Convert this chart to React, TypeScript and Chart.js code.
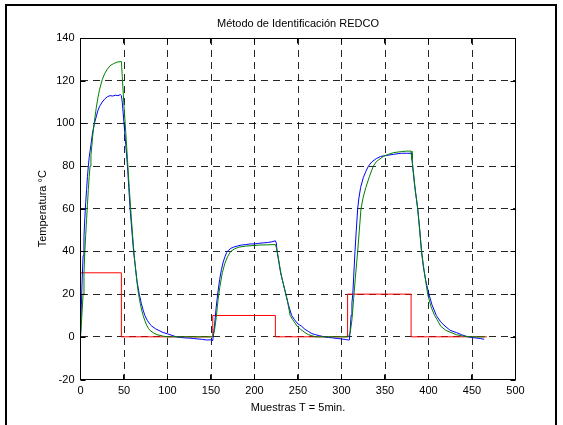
import React, { useEffect, useRef } from "react";
import { Chart, registerables } from "chart.js";

Chart.register(...registerables);

const titleText = "Método de Identificación REDCO";
const xAxisTitle = "Muestras T = 5min.";
const yAxisTitle = "Temperatura °C";

const xMin = 0;
const xMax = 500;
const xStep = 50;
const yMin = -20;
const yMax = 140;
const yStep = 20;

// Input (red, step signal)
const redX = [0, 47, 152, 224, 307, 380, 467];
const redY = [30, 0, 10, 0, 20, 0, 0];

// Measured temperature (blue)
const blueX = [
  0, 1, 2, 3, 4, 5, 6, 7, 8, 9, 10, 12, 14, 16, 18, 20, 22, 25, 28, 31, 34, 37, 40, 43, 46, 47,
  48, 50, 52, 54, 55.5, 57, 59, 61, 63, 65, 67.5, 70, 72, 74, 77, 80, 82, 86, 90, 95, 100, 105, 110,
  115, 120, 125, 130, 135, 140, 145, 150, 152,
  154, 156, 158, 160, 162, 164, 166, 168, 170, 173, 176, 180, 185, 190, 195, 200, 205, 210, 215, 220, 224, 225,
  226, 228, 230, 233, 236, 239, 242.7, 246, 250, 254, 258, 262, 266, 270, 275, 280, 285, 290, 295, 300, 305, 308,
  309, 310, 311, 312, 313, 314, 315.5, 317, 318.6, 320, 322, 325, 328, 331, 335, 340, 345, 352, 360, 365, 369, 375, 380,
  381, 382, 384, 386, 387.6, 390, 392, 394, 397, 400.5, 404, 409, 414, 419, 425, 432, 438, 445, 450, 455, 460, 464,
];
const blueY = [
  0, 15, 28, 38, 47, 56, 63, 69, 75, 80, 84, 90, 96, 100, 103, 106, 108, 110, 111.5, 112.5, 113, 112.8, 113.2, 113, 113.5, 113,
  110, 100, 90, 80, 70, 60, 50, 40, 33, 26, 20, 15.5, 12.5, 10, 7.5, 5.8, 5, 3.8, 3, 2, 1.4, 0.7, 0,
  -0.3, -0.5, -0.6, -0.8, -1, -1.2, -1.5, -1.4, -1.8,
  5, 14, 21, 27, 31.5, 35, 37.5, 39.5, 40.5, 41.5, 42, 42.5, 43, 43.2, 43.5, 43.5, 43.8, 44, 44.2, 44.5, 45, 44,
  40, 35, 30, 25, 20, 15, 10, 8, 6, 5, 3.5, 2.5, 1.5, 1, 0.5, 0, -0.3, -0.5, -0.8, -1, -1.3, -1.5,
  -1.5, 3, 10, 16, 20, 28, 40, 50, 60, 65, 70, 74.5, 77.5, 80, 82, 83.5, 84.5, 85, 85.5, 85.8, 86, 86, 86,
  84, 79, 71, 65, 60, 50, 40, 33, 26, 20, 15, 10, 7, 5, 3, 2, 1, 0, -0.3, -0.6, -0.8, -1.2,
];

// Identified model response (green)
const greenX = [
  0, 1, 2, 3, 4, 5, 6, 7, 8, 9, 10, 11, 12, 14, 16, 18, 20, 22, 25, 28, 31, 34, 38, 42, 47,
  48, 50, 52, 54, 56, 58, 60, 62, 64, 66, 68, 70, 72, 74, 76, 78, 80, 84, 88, 95, 100, 152,
  154, 156, 158, 159, 160, 163, 166, 169, 172.6, 177, 182, 190, 200, 206, 224,
  225, 227, 229, 231, 233, 236, 238, 241, 244, 249, 253, 258, 262, 266, 270, 308,
  310, 312, 314, 316, 318.6, 320.5, 322.4, 325, 328, 332, 336.6, 340, 343, 348, 354, 360, 369, 375, 380,
  381, 383, 385, 387.6, 390, 392, 395, 399, 403, 407, 410, 414, 420, 426, 432, 440, 450, 465,
];
const greenY = [
  0, 6, 13, 20, 30, 40, 48, 55, 62, 69, 75, 80, 85, 94, 101, 107, 112, 116, 120.5, 123.5, 125.5, 127, 128, 128.7, 129,
  122, 108, 96, 83, 70, 58, 47, 37, 29, 22, 17, 13, 10, 7.5, 5.5, 4, 3, 1.8, 1, 0.3, 0, 0,
  3, 9, 17, 20, 23, 30, 34.5, 37.5, 40, 41.2, 42, 42.5, 42.8, 43, 43.2,
  42, 38, 33, 28.5, 25, 20, 16.5, 10, 8, 5, 3.5, 2, 1, 0.5, 0, 0,
  2, 8, 18, 28, 40, 50, 60, 65.5, 70, 75, 80, 82, 83, 84.5, 85.5, 86.3, 86.8, 87, 87,
  83, 76, 68, 60, 49, 40, 31, 20, 14, 10, 8, 5, 3, 2, 1, 0.3, 0, 0,
];

const FONT = "'Liberation Sans', Arial, Helvetica, sans-serif";

function toPoints(xs: number[], ys: number[]) {
  return xs.map((x, i) => ({ x, y: ys[i] }));
}

const framePlugin = {
  id: "matlabFrame",
  afterDraw(chart: any) {
    const { ctx, chartArea } = chart;
    const { left, right, top, bottom } = chartArea;
    ctx.save();
    // title centred over the axes
    ctx.fillStyle = "#000";
    ctx.font = `11px ${FONT}`;
    ctx.textAlign = "center";
    ctx.textBaseline = "middle";
    ctx.fillText(titleText, (left + right) / 2, 24);
    // plot box
    ctx.strokeStyle = "#000";
    ctx.lineWidth = 1;
    const l = Math.round(left) - 0.5;
    const r = Math.round(right) - 0.5;
    const t = Math.round(top) + 0.5;
    const b = Math.round(bottom) - 0.5;
    ctx.beginPath();
    ctx.rect(l, t, r - l, b - t);
    ctx.stroke();
    // inward ticks
    const xs = chart.scales.x;
    const ys = chart.scales.y;
    const tl = 5;
    ctx.beginPath();
    for (let v = xMin; v <= xMax; v += xStep) {
      const px = Math.round(xs.getPixelForValue(v)) - 0.5;
      ctx.moveTo(px, b);
      ctx.lineTo(px, b - tl);
      ctx.moveTo(px, t);
      ctx.lineTo(px, t + tl);
    }
    for (let v = yMin; v <= yMax; v += yStep) {
      const py = Math.round(ys.getPixelForValue(v)) + 0.5;
      ctx.moveTo(l, py);
      ctx.lineTo(l + tl, py);
      ctx.moveTo(r, py);
      ctx.lineTo(r - tl, py);
    }
    ctx.stroke();
    // outer figure frame
    ctx.lineWidth = 2;
    ctx.strokeRect(6, 5, 550, 440);
    ctx.restore();
  },
};

export default function App() {
  const canvasRef = useRef<HTMLCanvasElement | null>(null);

  useEffect(() => {
    if (!canvasRef.current) return;
    const chart = new Chart(canvasRef.current, {
      type: "line",
      data: {
        datasets: [
          {
            label: "Modelo",
            data: toPoints(greenX, greenY),
            borderColor: "#008000",
            borderWidth: 1,
            pointRadius: 0,
            tension: 0,
            order: 1,
          },
          {
            label: "Medida",
            data: toPoints(blueX, blueY),
            borderColor: "#0000ff",
            borderWidth: 1,
            pointRadius: 0,
            tension: 0,
            order: 2,
          },
          {
            label: "Entrada",
            data: toPoints(redX, redY),
            borderColor: "#ff0000",
            borderWidth: 1,
            pointRadius: 0,
            stepped: true,
            order: 3,
          },
        ],
      },
      options: {
        animation: false,
        responsive: false,
        devicePixelRatio: 1,
        layout: { padding: { left: 0, right: 47.5, top: 38, bottom: 0 } },
        plugins: {
          legend: { display: false },
          tooltip: { enabled: false },
          title: { display: false },
        },
        scales: {
          x: {
            type: "linear",
            min: xMin,
            max: xMax,
            ticks: {
              stepSize: xStep,
              color: "#000",
              font: { family: FONT, size: 11 },
              padding: 5,
              maxRotation: 0,
            },
            grid: {
              color: "rgba(0,0,0,0.85)",
              lineWidth: 1,
              drawTicks: false,
            },
            border: { display: true, color: "#000", dash: [7, 5] },
            title: {
              display: true,
              text: xAxisTitle,
              color: "#000",
              font: { family: FONT, size: 11 },
              padding: { top: 0, bottom: 10.4 },
            },
            afterFit: (s: any) => {
              s.height = 45.5;
            },
          },
          y: {
            type: "linear",
            min: yMin,
            max: yMax,
            ticks: {
              stepSize: yStep,
              color: "#000",
              font: { family: FONT, size: 11 },
              padding: 6,
            },
            grid: {
              color: "rgba(0,0,0,0.85)",
              lineWidth: 1,
              drawTicks: false,
            },
            border: { display: true, color: "#000", dash: [7, 5] },
            title: {
              display: true,
              text: yAxisTitle,
              color: "#000",
              font: { family: FONT, size: 11 },
              padding: { top: 36.4, bottom: 0 },
            },
            afterFit: (s: any) => {
              s.width = 80.5;
            },
          },
        },
      },
      plugins: [framePlugin],
    });
    return () => chart.destroy();
  }, []);

  return (
    <div style={{ position: "absolute", left: 0, top: 0, width: 563, height: 425, background: "#fff" }}>
      <canvas ref={canvasRef} width={563} height={425} />
    </div>
  );
}
